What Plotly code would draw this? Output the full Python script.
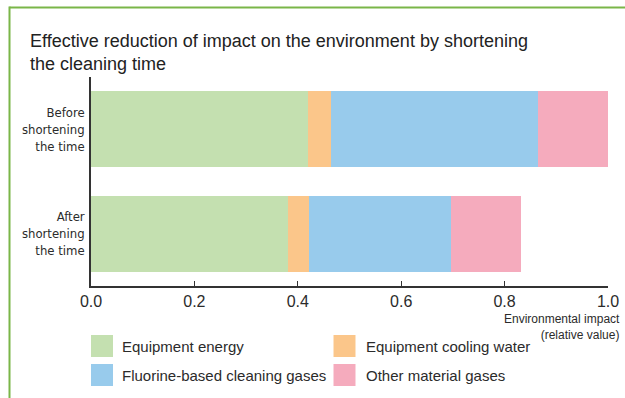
import plotly.graph_objects as go

categories = ["Before<br>shortening<br>the time", "After<br>shortening<br>the time"]
series_names = ["Equipment energy", "Equipment cooling water",
                "Fluorine-based cleaning gases", "Other material gases"]
equipment_energy = [0.42, 0.381]
cooling_water = [0.045, 0.041]
fluorine_gases = [0.40, 0.275]
other_gases = [0.135, 0.135]
x_ticks = [0.0, 0.2, 0.4, 0.6, 0.8, 1.0]
x_tick_labels = ["0.0", "0.2", "0.4", "0.6", "0.8", "1.0"]

colors = ["#c4e0b0", "#fbc68a", "#98cbec", "#f5abbd"]
values = [equipment_energy, cooling_water, fluorine_gases, other_gases]

W, H = 625, 398
ML, MR, MT, MB = 91, 17, 77, 112
PW, PH = W - ML - MR, H - MT - MB

def px(x):
    return (x - ML) / PW

def py(y):
    return (H - MB - y) / PH

TXT = "#2b2b2b"
NARROW = "Liberation Sans Narrow, Arial Narrow, DejaVu Sans Condensed, sans-serif"
SANS = "Liberation Sans, Arial, sans-serif"

fig = go.Figure()
for name, vals, col in zip(series_names, values, colors):
    fig.add_trace(go.Bar(
        y=categories, x=vals, name=name, orientation="h",
        marker=dict(color=col, line=dict(width=0)),
        showlegend=False, hoverinfo="x+name",
    ))

shapes = []
annotations = []
# green frame
frame = "#7ab648"
shapes.append(dict(type="line", xref="paper", yref="paper",
                   x0=px(9.5), x1=px(626), y0=py(7.5), y1=py(7.5),
                   line=dict(color=frame, width=2), layer="above"))
shapes.append(dict(type="line", xref="paper", yref="paper",
                   x0=px(9.5), x1=px(9.5), y0=py(6.5), y1=py(400),
                   line=dict(color=frame, width=2), layer="above"))

# custom legend
sw_x = [91, 333.5]
txt_x = [120, 363.5]
sw_y = [335, 364]
for i, (name, col) in enumerate(zip(series_names, colors)):
    c, r = i % 2, i // 2
    shapes.append(dict(type="rect", xref="paper", yref="paper",
                       x0=px(sw_x[c]), x1=px(sw_x[c] + 22),
                       y0=py(sw_y[r]), y1=py(sw_y[r] + 22),
                       fillcolor=col, line=dict(width=0)))
    annotations.append(dict(text=name, xref="paper", yref="paper",
                            x=px(txt_x[c]), y=py(sw_y[r] + 11.5),
                            xanchor="left", yanchor="middle", showarrow=False,
                            font=dict(family=SANS, size=15, color=TXT)))

annotations.append(dict(text="Environmental impact<br>(relative value)",
                        xref="paper", yref="paper", x=px(622), y=py(310),
                        xanchor="right", yanchor="top", align="right",
                        showarrow=False,
                        font=dict(family=SANS, size=12, color=TXT)))

fig.update_layout(
    width=W, height=H, autosize=False,
    margin=dict(l=ML, r=MR, t=MT, b=MB, pad=0, autoexpand=False),
    barmode="stack", bargap=0.27,
    paper_bgcolor="white", plot_bgcolor="white",
    title=dict(text="Effective reduction of impact on the environment by shortening<br>the cleaning time",
               x=30 / W, xref="container", xanchor="left",
               y=1 - 47 / H, yref="container", yanchor="top",
               font=dict(family=SANS, size=18, color="#222222")),
    xaxis=dict(range=[0, 1], tickvals=x_ticks, ticktext=x_tick_labels,
               automargin=False,
               showgrid=False, zeroline=False, showline=True,
               linecolor="#333333", linewidth=1.5,
               ticks="inside", ticklen=5, tickwidth=1.2, tickcolor="#333333",
               tickfont=dict(family=SANS, size=16, color=TXT)),
    yaxis=dict(categoryorder="array", categoryarray=categories[::-1],
               automargin=False,
               range=[-0.5, 1.5], showgrid=False, zeroline=False,
               showline=True, linecolor="#333333", linewidth=1.5,
               ticks="", ticklabelstandoff=2,
               tickfont=dict(family=NARROW, size=13, color=TXT)),
    shapes=shapes, annotations=annotations,
)

fig.write_html("out.html", config={"displayModeBar": False},
               post_script="document.body.style.margin='0';document.body.style.overflow='hidden';")
